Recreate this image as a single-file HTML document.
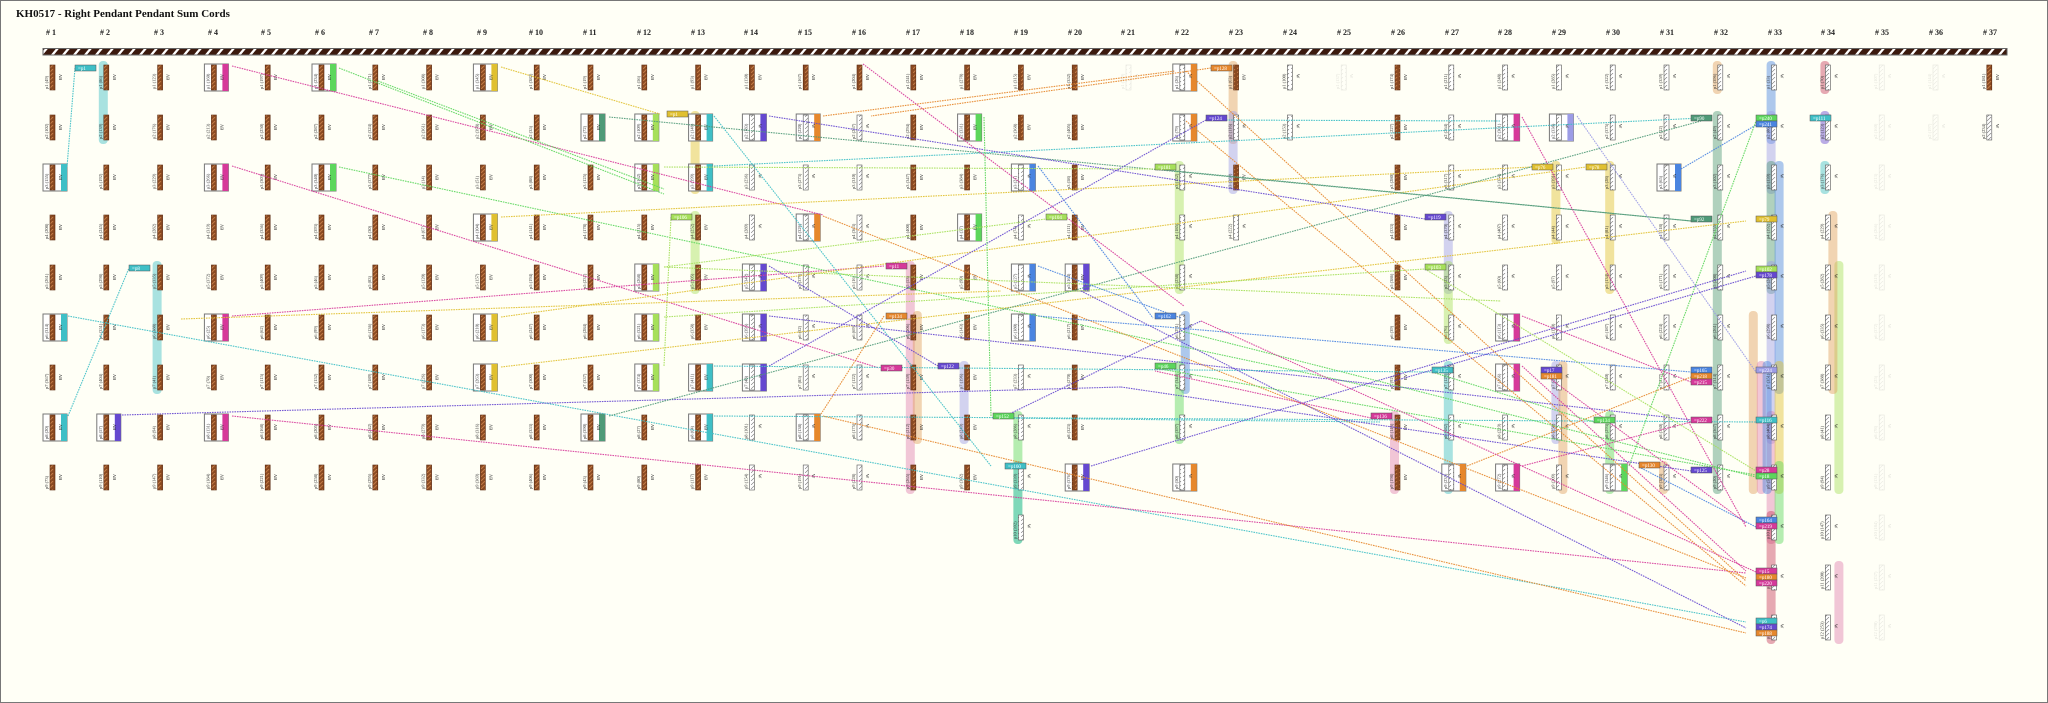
<!DOCTYPE html>
<html><head><meta charset="utf-8">
<style>
html,body{margin:0;padding:0;background:#fffff6;}
#wrap{position:relative;width:2046px;height:701px;border:1px solid #777;background:#fffff6;overflow:hidden;font-family:"Liberation Serif",serif;}
svg{position:absolute;left:0;top:0;}
</style></head><body>
<div id="wrap">
<svg id="s" width="2046" height="701" xmlns="http://www.w3.org/2000/svg">
<defs>
<pattern id="stripe" width="11" height="8" patternUnits="userSpaceOnUse" patternTransform="skewX(-40)">
<rect width="11" height="8" fill="#3b1a0e"/><rect x="7" width="3" height="8" fill="#fff"/>
</pattern>
<pattern id="brown" width="6" height="4" patternUnits="userSpaceOnUse">
<rect width="6" height="4" fill="#8a4a22"/><path d="M0 4 L4 0" stroke="#c27a45" stroke-width="1"/>
</pattern>
<pattern id="white" width="6" height="4" patternUnits="userSpaceOnUse">
<rect width="6" height="4" fill="#fff"/><path d="M0 4 L4 0" stroke="#777" stroke-width="0.6"/>
</pattern>
</defs>
<text x="15" y="16" font-size="11" font-weight="bold" font-family="Liberation Serif, serif" fill="#111">KH0517 - Right Pendant Pendant Sum Cords</text>
<g font-size="8" font-weight="bold" font-family="Liberation Serif, serif" fill="#222">
<text x="45" y="34"># 1</text><text x="99" y="34"># 2</text><text x="153" y="34"># 3</text><text x="207" y="34"># 4</text><text x="260" y="34"># 5</text><text x="314" y="34"># 6</text><text x="368" y="34"># 7</text><text x="422" y="34"># 8</text><text x="476" y="34"># 9</text><text x="528" y="34"># 10</text><text x="582" y="34"># 11</text><text x="636" y="34"># 12</text><text x="690" y="34"># 13</text><text x="743" y="34"># 14</text><text x="797" y="34"># 15</text><text x="851" y="34"># 16</text><text x="905" y="34"># 17</text><text x="959" y="34"># 18</text><text x="1013" y="34"># 19</text><text x="1067" y="34"># 20</text><text x="1120" y="34"># 21</text><text x="1174" y="34"># 22</text><text x="1228" y="34"># 23</text><text x="1282" y="34"># 24</text><text x="1336" y="34"># 25</text><text x="1390" y="34"># 26</text><text x="1444" y="34"># 27</text><text x="1497" y="34"># 28</text><text x="1551" y="34"># 29</text><text x="1605" y="34"># 30</text><text x="1659" y="34"># 31</text><text x="1713" y="34"># 32</text><text x="1767" y="34"># 33</text><text x="1820" y="34"># 34</text><text x="1874" y="34"># 35</text><text x="1928" y="34"># 36</text><text x="1982" y="34"># 37</text>
</g>
<rect x="42" y="47.5" width="1964" height="6.5" fill="url(#stripe)" stroke="#666" stroke-width="1"/>
<g id="bars"></g><g id="cords"></g><g id="lines"></g><g id="tags"></g>
</svg>
</div>
<script>
var NS="http://www.w3.org/2000/svg";
function el(p,n,a,t){var e=document.createElementNS(NS,n);for(var k in a)e.setAttribute(k,a[k]);if(t!=null)e.textContent=t;p.appendChild(e);return e;}
function cx(n){return 51+53.8*(n-1);}
function ry(r){return 64+50*(r-1);}
var C={c:"#3fbfc6",m:"#d6399a",g:"#5cd65c",y:"#e0c030",sg:"#4f9a78",l:"#a6e05a",p:"#6548d0",o:"#e6872c",b:"#4a84e0",v:"#9c9ce6",r:"#c84060",t:"#e0a060",pk:"#e080b0"};
var cols={1:"BBBBBBBBB",2:"BBBBBBBBB",3:"BBBBBBBBB",4:"BBBBBBBBB",5:"BBBBBBBBB",6:"BBBBBBBBB",7:"BBBBBBBBB",8:"BBBBBBBBB",9:"BBBBBBBBB",10:"BBBBBBBBB",11:"BBBBBBBBB",12:"BBBBBBBBB",13:"BBBBBBBBB",14:"BWWWWWWWW",15:"BWWWWWWWW",16:"BWWWWWWWW",17:"BBBBBBBBB",18:"BBBBBBBBB",19:"BBWWWWWWWW",20:"BBBBBBBBB",21:"F",22:"WWWWWWWWW",23:"BWBW",24:"WW",25:"F",26:"BBBBBBBBB",27:"WWWWWWWWW",28:"WWWWWWWWW",29:"WWWWWWWWW",30:"WWWWWWWWW",31:"WWWWWWWWW",32:"WWWWWWWWW",33:"WWWWWWWWWWWW",34:"WWWWWWWWWWWW",35:"FFFFFFFFFFFF",36:"FF",37:"BW"};
var boxes=[[1,3,"c"],[1,6,"c"],[1,8,"c"],[2,8,"p"],[4,1,"m"],[4,3,"m"],[4,6,"m"],[4,8,"m"],[6,1,"g"],[6,3,"g"],[9,1,"y"],[9,4,"y"],[9,6,"y"],[9,7,"y"],[11,2,"sg"],[11,8,"sg"],[12,2,"l"],[12,3,"l"],[12,5,"l"],[12,6,"l"],[12,7,"l"],[13,2,"c"],[13,3,"c"],[13,7,"c"],[13,8,"c"],[14,2,"p"],[14,5,"p"],[14,6,"p"],[14,7,"p"],[15,2,"o"],[15,4,"o"],[15,8,"o"],[18,2,"g"],[18,4,"g"],[19,3,"b"],[19,5,"b"],[19,6,"b"],[20,5,"p"],[20,9,"p"],[22,1,"o"],[22,2,"o"],[22,9,"o"],[27,9,"o"],[28,2,"m"],[28,6,"m"],[28,7,"m"],[28,9,"m"],[29,2,"v"],[30,9,"g"],[31,3,"b"]];
var bars=[[2,1,2,"c"],[3,5,7,"c"],[13,2,3,"y"],[13,4,5,"l"],[17,5,9,"pk"],[17,6,8,"t",7],[18,7,8,"v"],[19,8,10,"g"],[19,9,10,"c",0],[22,3,5,"l"],[22,6,7,"b",6],[22,7,8,"g"],[23,1,2,"t"],[23,2,3,"v"],[26,8,9,"pk"],[27,4,5,"v"],[27,5,6,"l"],[27,7,9,"c"],[29,3,4,"y"],[29,7,8,"v"],[29,7,9,"t",7],[30,3,5,"y"],[30,8,9,"g"],[31,9,9,"t"],[32,1,1,"t"],[32,2,9,"sg"],[33,1,2,"b"],[33,2,3,"v"],[33,3,5,"sg"],[33,5,8,"v"],[33,8,10,"pk"],[33,10,12,"r"],[33,3,7,"b",8],[33,7,9,"y",8],[33,9,10,"g",8],[34,1,1,"r"],[34,2,2,"p"],[34,3,3,"c"],[34,5,9,"l",14],[34,4,7,"t",8],[34,11,12,"pk",14],[32,6,9,"t",36],[32,7,9,"pk",44],[33,7,9,"b",-4]];
var gb=document.getElementById("bars"),gc=document.getElementById("cords"),gl=document.getElementById("lines"),gt=document.getElementById("tags");
bars.forEach(function(b){var x=cx(b[0])-7+(b[4]||0);el(gb,"rect",{x:x,y:ry(b[1])-4,width:9,height:ry(b[2])-ry(b[1])+33,rx:4,fill:C[b[3]],opacity:0.45});});
var bx={};boxes.forEach(function(b){bx[b[0]+"_"+b[1]]=b[2];});
for(var n in cols){var s=cols[n];for(var i=0;i<s.length;i++){var t=s[i],x=cx(+n),y=ry(i+1),k=n+"_"+(i+1);var op=t=="F"?0.15:1;var g=el(gc,"g",{opacity:op});
if(bx[k]){el(g,"rect",{x:x-9,y:y-1,width:24,height:27,fill:"#fff",stroke:"#777","stroke-width":1});el(g,"rect",{x:x+9,y:y-1,width:6,height:27,fill:C[bx[k]]});}
el(g,"rect",{x:x-2,y:y,width:5,height:25,fill:t=="B"?"url(#brown)":"url(#white)",stroke:t=="B"?"#5a2a10":"#555","stroke-width":0.6});
el(g,"text",{x:0,y:0,"font-size":4.5,fill:"#333",transform:"translate("+(x-4)+","+(y+24)+") rotate(-90)"},"p"+(i+1)+" ("+((n*37+i*53)%400+12)+")");
el(g,"text",{x:0,y:0,"font-size":4.5,fill:"#222",transform:"translate("+(x+7)+","+(y+9)+") rotate(90)"},t=="B"?"AB":"W");}}
var lines=[[74,67,66,166,"c"],[67,415,128,267,"c"],[67,315,1745,621,"c"],[121,414,1120,386,"p"],[231,65,822,214,"m"],[231,165,878,367,"m"],[231,315,883,265,"m"],[231,415,1745,572,"m"],[338,67,663,193,"g"],[377,80,663,188,"g"],[338,166,1390,390,"g"],[500,66,659,113,"y"],[500,216,1531,166,"y"],[500,316,1585,166,"y"],[500,366,1745,220,"y"],[608,116,1690,220,"sg"],[608,415,1700,120,"sg"],[670,216,663,365,"l"],[663,166,1154,168,"l"],[663,266,1045,218,"l"],[663,316,1424,268,"l"],[663,266,1500,300,"l"],[713,115,990,465,"c"],[713,165,1700,117,"c"],[768,115,1424,218,"p"],[822,115,1174,70,"o"],[1037,165,1152,317,"b"],[862,63,1183,305,"m"],[822,215,1745,577,"o"],[768,265,937,365,"p"],[768,315,1700,420,"p"],[768,365,1205,119,"p"],[883,315,820,413,"o"],[713,365,1431,371,"c"],[713,415,1755,421,"c"],[983,116,990,415,"g"],[1037,265,1180,317,"b"],[1037,315,1690,371,"b"],[1080,290,1745,627,"p"],[822,415,1745,632,"o"],[1185,70,1745,580,"o"],[1185,120,1745,585,"o"],[1521,116,1745,526,"m"],[1576,115,1755,371,"v"],[1680,168,1755,124,"b"],[1628,465,1755,120,"g"],[1521,315,1690,381,"m"],[1521,365,1745,570,"m"],[1466,465,1690,376,"o"],[1521,465,1690,421,"m"],[1393,380,1755,275,"p"],[1090,465,1745,270,"p"],[1154,168,1690,220,"sg"],[1180,330,1755,476,"g"],[1424,268,1755,470,"l"],[1210,67,870,115,"o"],[1205,119,1500,120,"c"],[1154,367,1755,474,"g"],[1370,417,1154,370,"m"],[1000,417,1379,421,"c"],[1638,466,1755,526,"b"],[1540,371,1745,522,"m"],[1593,421,1431,371,"g"],[1200,320,1755,571,"m"],[1120,386,1690,470,"p"],[180,318,1000,290,"y"],[1000,417,1200,320,"p"]];
lines.forEach(function(l){el(gl,"line",{x1:l[0],y1:l[1],x2:l[2],y2:l[3],stroke:C[l[4]],"stroke-width":1.1,"stroke-dasharray":"1.6 0.9",opacity:0.9});});
var tags=[[74,64,"c","=p1"],[128,264,"c","=p8"],[666,110,"y","=p1"],[670,213,"l","=p106"],[885,262,"m","=p11"],[885,312,"o","=p134"],[880,364,"m","=p30"],[937,362,"p","=p122"],[992,412,"g","=p152"],[1004,462,"c","=p160"],[1154,163,"l","=p181"],[1045,213,"l","=p104"],[1424,213,"p","=p119"],[1210,64,"o","=p128"],[1205,114,"p","=p124"],[1531,163,"y","=p76"],[1585,163,"y","=p78"],[1424,263,"l","=p103"],[1154,312,"b","=p162"],[1154,362,"g","=p46"],[1370,412,"m","=p136"],[1638,461,"o","=p130"],[1690,114,"sg","=p90"],[1755,114,"g","=p240"],[1755,120,"b","=p241"],[1809,114,"c","=p111"],[1690,215,"sg","=p92"],[1755,215,"y","=p79"],[1755,265,"l","=p102"],[1755,271,"p","=p178"],[1690,366,"b","=p165"],[1690,372,"o","=p218"],[1690,378,"m","=p215"],[1755,366,"v","=p224"],[1431,366,"c","=p135"],[1540,366,"p","=p17"],[1540,372,"o","=p181"],[1690,416,"m","=p222"],[1755,416,"c","=p116"],[1593,416,"g","=p134"],[1755,466,"m","=p28"],[1755,472,"g","=p18"],[1690,466,"p","=p125"],[1755,516,"b","=p164"],[1755,522,"m","=p219"],[1755,567,"m","=p15"],[1755,573,"o","=p180"],[1755,579,"m","=p220"],[1755,617,"c","=p6"],[1755,623,"p","=p174"],[1755,629,"o","=p188"]];
tags.forEach(function(t){el(gt,"rect",{x:t[0],y:t[1],width:21,height:6,fill:C[t[2]],stroke:"#555","stroke-width":0.5});el(gt,"text",{x:t[0]+3,y:t[1]+5,"font-size":5,fill:"#fff"},t[3]);});
</script>
</body></html>
